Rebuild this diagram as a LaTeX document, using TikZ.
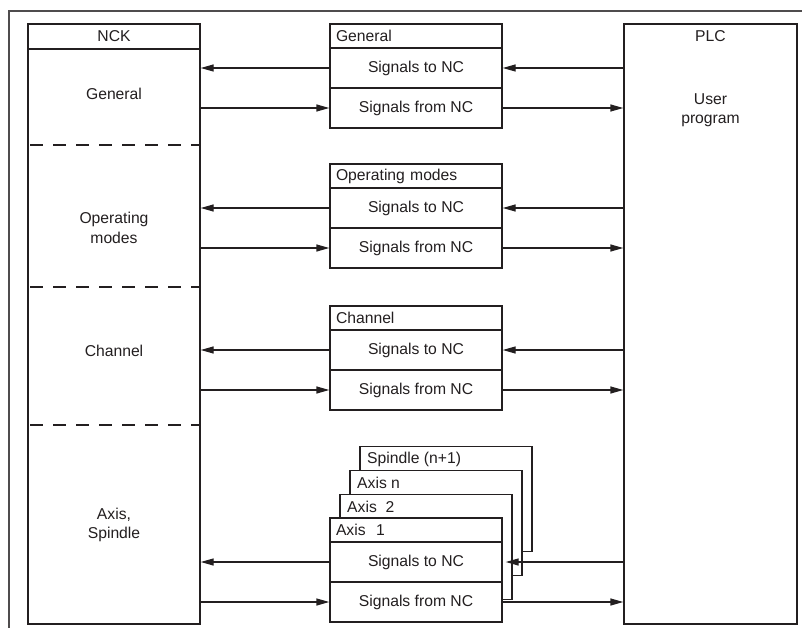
\documentclass[tikz,border=0pt]{standalone}
\usepackage{fontspec}
\setmainfont{Liberation Sans}
\usetikzlibrary{arrows.meta}
\definecolor{ink}{HTML}{231F20}
\begin{document}
\begin{tikzpicture}[x=1pt,y=-1pt,
  every node/.style={font=\fontsize{15.7}{19.5}\selectfont, text=ink},
  box/.style={draw=ink, line width=1.4pt, fill=white, inner sep=0pt, minimum width=172pt},
  hdr/.style={box, minimum height=24pt, text width=160pt, align=left, inner xsep=6pt},
  sig/.style={box, minimum height=40pt},
  big/.style={draw=ink, line width=1.4pt, inner sep=0pt, minimum width=172pt, minimum height=600pt},
  txt/.style={align=center, inner sep=0pt},
  arr/.style={draw=ink, line width=1.4pt, -{Triangle[length=13pt,width=7pt]}},
  sep/.style={draw=ink, line width=1.3pt, dash pattern=on 13pt off 10pt}]
\useasboundingbox (0,0) rectangle (802,628);
\fill[white] (0,0) rectangle (802,628);
% outer frame
\draw[line width=1.3pt, draw=ink!80] (9,628) -- (9,11) -- (802,11);
% NCK
\node[big] (nck) at (114,324) {};
\draw[draw=ink, line width=1.4pt] (nck.west |- 0,49) coordinate (nh1) -- (nck.east |- 0,49) coordinate (nh2);
\node[txt] (nckt) at (114,36) {NCK};
\draw[sep] (30,145) coordinate (d1a) -- (200,145) coordinate (d1b);
\draw[sep] (30,287) coordinate (d2a) -- (200,287) coordinate (d2b);
\draw[sep] (30,425) coordinate (d3a) -- (200,425) coordinate (d3b);
\node[txt] (n1) at (114,94) {General};
\node[txt] (n2) at (114,228) {Operating\\modes};
\node[txt] (n3) at (114,351) {Channel};
\node[txt] (n4) at (114,525) {Axis,\\Spindle};
% PLC
\node[big, minimum width=173pt] (plc) at (710.5,324) {};
\node[txt] (plct) at (710.5,36) {PLC};
\node[txt] (plcu) at (710.5,110) {User\\program};
% General
\node[hdr] (h1) at (416,36) {General};
\node[sig] (t1) at (416,68) {Signals to NC};
\node[sig] (f1) at (416,108) {Signals from NC};
% Operating modes
\node[hdr] (h2) at (416,176) {Operating modes};
\node[sig] (t2) at (416,208) {Signals to NC};
\node[sig] (f2) at (416,248) {Signals from NC};
% Channel
\node[hdr] (h3) at (416,318) {Channel};
\node[sig] (t3) at (416,350) {Signals to NC};
\node[sig] (f3) at (416,390) {Signals from NC};
% stacked axis boxes
\node[box, minimum height=105pt, anchor=north] (sp) at (446,446) {};
\node[txt, anchor=west] (spt) at (367,459) {Spindle (n+1)};
\node[box, minimum height=105pt, anchor=north] (an) at (436,470) {};
\node[txt, anchor=west] (ant) at (357,483) {Axis n};
\node[box, minimum height=105pt, anchor=north] (a2) at (426,494) {};
\node[txt, anchor=west] (a2t) at (347,507) {Axis\ \ 2};
\node[hdr] (h4) at (416,530) {Axis\ \ 1};
\node[sig] (t4) at (416,562) {Signals to NC};
\node[sig] (f4) at (416,602) {Signals from NC};
% arrows
\foreach \i in {1,2,3,4}{
  \draw[arr] (t\i.west) -- (nck.east |- t\i.west);
  \draw[arr] (nck.east |- f\i.west) -- (f\i.west);
  \draw[arr] (f\i.east) -- (plc.west |- f\i.east);
}
\foreach \i in {1,2,3}{
  \draw[arr] (plc.west |- t\i.east) -- (t\i.east);
}
\draw[arr] (plc.west |- t4.east) -- ([xshift=3pt]t4.east);
\end{tikzpicture}
\end{document}
